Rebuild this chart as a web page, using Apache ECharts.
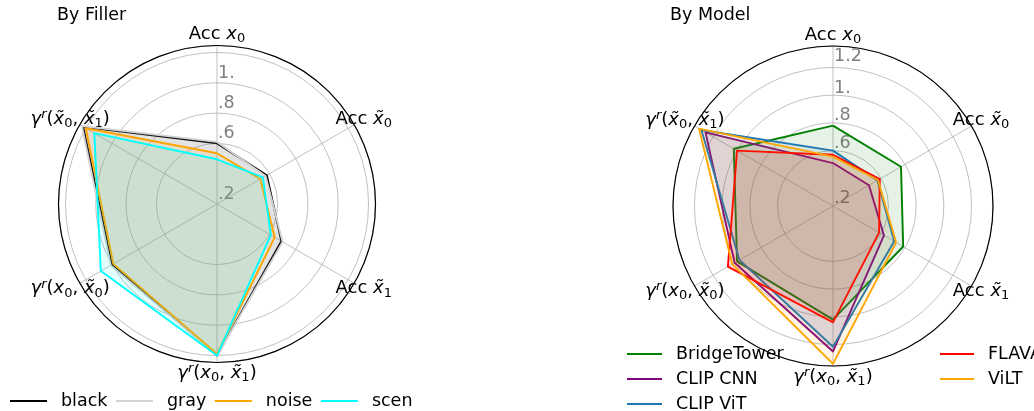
<!DOCTYPE html>
<html><head><meta charset="utf-8">
<script src="https://cdn.jsdelivr.net/npm/echarts@6/dist/echarts.min.js"></script>
<style>
html,body{margin:0;padding:0;background:#fff;}
#wrap{position:relative;width:1034px;height:411px;overflow:hidden;background:#fff;}
#left{position:absolute;left:0;top:0;width:412px;height:411px;}
#right{position:absolute;left:412px;top:0;width:622px;height:411px;}
</style></head><body>
<div id="wrap"><div id="left"></div><div id="right"></div></div>
<script>
// ---- data ----
const axisNames = ['Acc x\u2080', 'Acc x\u0303\u2080', 'Acc x\u0303\u2081',
  '\u03b3\u02b3(x\u2080, x\u0303\u2081)', '\u03b3\u02b3(x\u2080, x\u0303\u2080)', '\u03b3\u02b3(x\u0303\u2080, x\u0303\u2081)'];

const fillerNames = ['black', 'gray', 'noise', 'scene'];
const fillerColors = ['#000000', '#d3d3d3', '#ffa500', '#00ffff'];
const fillerBlack = [0.40, 0.38, 0.49, 1.00, 0.80, 1.02];
const fillerGray  = [0.41, 0.37, 0.50, 1.00, 0.81, 1.03];
const fillerNoise = [0.335, 0.33, 0.44, 0.99, 0.79, 1.00];
const fillerScene = [0.295, 0.35, 0.41, 1.00, 0.885, 0.935];

const modelNames = ['BridgeTower', 'CLIP CNN', 'CLIP ViT', 'FLAVA', 'ViLT'];
const modelColors = ['#008000', '#800080', '#1f77b4', '#ff0000', '#ffa500'];
const modelBridgeTower = [0.58, 0.567, 0.585, 0.82, 0.80, 0.827];
const modelClipCnn     = [0.31, 0.30, 0.425, 1.05, 0.82, 1.063];
const modelClipVit     = [0.40, 0.37, 0.51, 1.016, 0.78, 1.097];
const modelFlava       = [0.37, 0.39, 0.384, 0.84, 0.876, 0.80];
const modelVilt        = [0.356, 0.375, 0.526, 1.14, 0.84, 1.117];

const fillerTickLabels = ['', '.2', '', '.6', '.8', '1.'];
const modelTickLabels  = ['', '.2', '', '.6', '.8', '1.', '1.2'];
const fillerMax = 1.046;
const modelMax = 1.155;

// ---- helpers ----
const FONT = "'DejaVu Sans', sans-serif";
const FS = 17.5;
const ORDER = [0, 5, 4, 3, 2, 1]; // radar runs counter-clockwise
const SUB = { '\u2080': '0', '\u2081': '1' };

function richName(name) {
  const chars = Array.from(name);
  let out = '', buf = '';
  const flush = () => { if (buf) { out += '{n|' + buf + '}'; buf = ''; } };
  for (let k = 0; k < chars.length; k++) {
    const c = chars[k];
    if (c === 'x' || c === '\u03b3') {
      flush();
      let s = c;
      if (chars[k + 1] === '\u0303') { s += chars[k + 1]; k++; }
      out += '{i|' + s + '}';
    } else if (SUB[c]) {
      flush(); out += '{s|' + SUB[c] + '}';
    } else if (c === '\u02b3') {
      flush(); out += '{p|r}';
    } else buf += c;
  }
  flush();
  return out;
}

function tickFormatter(labels) {
  return function (v) {
    const idx = Math.round(v / 0.2);
    if (Math.abs(v - idx * 0.2) < 1e-6) {
      return labels[idx] ? '{a|' + labels[idx] + '}' : '';
    }
    if (idx * 0.2 > v && labels[idx]) return '{b|' + labels[idx] + '}';
    return '';
  };
}

function buildOption(cfg) {
  const ringColors = ['rgba(0,0,0,0)', 'rgba(0,0,0,0)', '#b0b0b0', '#b0b0b0', '#b0b0b0', '#b0b0b0', '#b0b0b0', '#000000'];
  return {
    animation: false,
    backgroundColor: '#fff',
    color: cfg.series.map(s => s.color),
    title: {
      text: cfg.title, left: cfg.titleLeft, top: 6, padding: 0,
      textStyle: { fontSize: FS, fontWeight: 'normal', fontFamily: FONT, color: '#000' }
    },
    polar: { center: cfg.center, radius: cfg.radius },
    angleAxis: {
      type: 'value', min: 0, max: 360, interval: 60, startAngle: 90, clockwise: true,
      axisLine: { show: true, lineStyle: { color: '#000', width: 1.2 } },
      axisTick: { show: false }, axisLabel: { show: false },
      splitLine: { show: true, lineStyle: { color: '#b0b0b0', width: 0.8 } }
    },
    radiusAxis: {
      type: 'value', min: 0, max: cfg.max, interval: 0.2,
      axisLine: { show: false }, axisTick: { show: false },
      splitLine: { show: true, lineStyle: { color: ringColors, width: 0.8 } },
      axisLabel: {
        show: true, showMaxLabel: true, showMinLabel: true, margin: -1,
        align: 'left', verticalAlign: 'top',
        formatter: tickFormatter(cfg.ticks),
        rich: {
          a: { fontSize: FS, fontFamily: FONT, color: '#808080', lineHeight: 41 },
          b: { fontSize: FS, fontFamily: FONT, color: '#808080', lineHeight: 20 }
        }
      }
    },
    radar: {
      center: cfg.center, radius: cfg.radius, startAngle: 90,
      indicator: ORDER.map(i => ({ name: axisNames[i], min: 0, max: cfg.max })),
      axisLine: { show: false }, splitLine: { show: false }, splitArea: { show: false },
      axisTick: { show: false }, axisLabel: { show: false },
      axisNameGap: 11,
      axisName: {
        color: '#000', fontSize: FS, fontFamily: FONT, align: 'center', verticalAlign: 'middle',
        formatter: (name) => richName(name),
        rich: {
          n: { fontSize: 18, fontFamily: FONT, color: '#000', lineHeight: 22, verticalAlign: 'middle' },
          i: { fontSize: 18, fontFamily: FONT, color: '#000', fontStyle: 'italic', lineHeight: 22, verticalAlign: 'middle' },
          s: { fontSize: 13, fontFamily: FONT, color: '#000', lineHeight: 11, verticalAlign: 'bottom' },
          p: { fontSize: 13, fontFamily: FONT, color: '#000', fontStyle: 'italic', lineHeight: 13, verticalAlign: 'top' }
        }
      }
    },
    legend: cfg.legends,
    series: cfg.series.map((s, k) => ({
      type: 'radar', name: s.name, z: 2 + k * 0.01,
      symbol: 'none',
      itemStyle: { color: s.color },
      lineStyle: { color: s.color, width: 1.9 },
      areaStyle: { color: s.color, opacity: 0.1 },
      data: [{ name: s.name, value: ORDER.map(i => s.values[i]) }]
    }))
  };
}

function legendBase(extra) {
  return Object.assign({
    icon: 'rect', itemWidth: 37, itemHeight: 2, padding: 0,
    textStyle: { fontSize: FS, fontFamily: FONT, color: '#000', padding: [0, 0, 0, 9], lineHeight: 17 }
  }, extra);
}

const fillerValues = [fillerBlack, fillerGray, fillerNoise, fillerScene];
const modelValues = [modelBridgeTower, modelClipCnn, modelClipVit, modelFlava, modelVilt];

const leftChart = echarts.init(document.getElementById('left'));
leftChart.setOption(buildOption({
  title: 'By Filler', titleLeft: 57,
  center: [217, 204], radius: 158.5, max: fillerMax, ticks: fillerTickLabels,
  legends: [legendBase({ orient: 'horizontal', left: 10, top: 392, width: 700, itemGap: 8.5, data: fillerNames })],
  series: fillerNames.map((n, k) => ({ name: n, color: fillerColors[k], values: fillerValues[k] }))
}));

const rightChart = echarts.init(document.getElementById('right'));
rightChart.setOption(buildOption({
  title: 'By Model', titleLeft: 258,
  center: [421, 206], radius: 160, max: modelMax, ticks: modelTickLabels,
  legends: [
    legendBase({ orient: 'vertical', left: 215, top: 345, height: 120, itemWidth: 35, itemGap: 7, data: modelNames.slice(0, 3) }),
    legendBase({ orient: 'vertical', left: 528, top: 345, height: 120, itemWidth: 34, itemGap: 7, data: modelNames.slice(3) })
  ],
  series: modelNames.map((n, k) => ({ name: n, color: modelColors[k], values: modelValues[k] }))
}));
</script>
</body></html>
